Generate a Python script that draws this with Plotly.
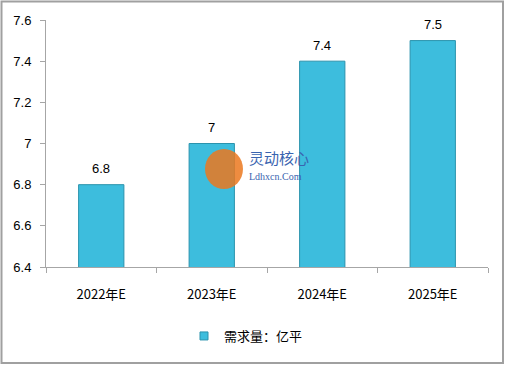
import plotly.graph_objects as go

categories = ["2022年E", "2023年E", "2024年E", "2025年E"]
values = [6.8, 7.0, 7.4, 7.5]
labels = ["6.8", "7", "7.4", "7.5"]
series_name = "需求量：亿平"
tick_vals = [6.4, 6.6, 6.8, 7.0, 7.2, 7.4, 7.6]
tick_text = ["6.4", "6.6", "6.8", "7", "7.2", "7.4", "7.6"]

W, H = 506, 366
L, R, T, B = 46, 18, 20, 99
pw, ph = W - L - R, H - T - B

def px(x):
    return (x - L) / pw

def py(y):
    return (H - B - y) / ph

font = "Liberation Sans, Noto Sans CJK SC, sans-serif"
cjk = "Noto Sans CJK SC, sans-serif"
bar_color = "#3dbddd"

fig = go.Figure()
fig.add_trace(go.Bar(
    x=categories, y=values, name=series_name, showlegend=False,
    marker=dict(color=bar_color, line=dict(color="#2b93ad", width=1)),
    width=0.41,
))
fig.add_trace(go.Scatter(
    x=[None], y=[None], mode="markers", name=series_name,
    marker=dict(symbol="square", size=8, color=bar_color, line=dict(color="#2b93ad", width=1)),
))

annotations = [
    dict(x=c, y=v, text=t, xref="x", yref="y", showarrow=False,
         yanchor="middle", yshift=16, font=dict(size=13, color="#000000", family=font))
    for c, v, t in zip(categories, values, labels)
]
annotations += [
    dict(text="灵动核心", xref="paper", yref="paper", x=px(247), y=py(157),
         xanchor="left", yanchor="middle", showarrow=False,
         font=dict(size=15, color="#3a64b0", family=cjk)),
    dict(text="Ldhxcn.Com", xref="paper", yref="paper", x=px(247), y=py(176),
         xanchor="left", yanchor="middle", showarrow=False,
         font=dict(size=10, color="#3a64b0", family="Liberation Serif, serif")),
]

fig.update_layout(
    width=W, height=H,
    margin=dict(l=L, r=R, t=T, b=B),
    paper_bgcolor="white", plot_bgcolor="white",
    font=dict(family=font, size=13, color="#000000"),
    showlegend=True,
    legend=dict(orientation="h", x=px(184), y=py(336), xanchor="left", yanchor="middle",
                font=dict(size=13, family=cjk), itemwidth=30,
                bgcolor="rgba(0,0,0,0)"),
    xaxis=dict(showline=True, linecolor="#a6a6a6", linewidth=1,
               ticks="outside", ticklen=5, tickcolor="#a6a6a6", tickson="boundaries",
               showgrid=False, tickfont=dict(size=13, family=cjk),
               ticklabelstandoff=15),
    yaxis=dict(range=[6.4, 7.6], tickvals=tick_vals, ticktext=tick_text,
               showline=True, linecolor="#a6a6a6", linewidth=1,
               ticks="outside", ticklen=5, tickcolor="#a6a6a6",
               showgrid=False, zeroline=False, tickfont=dict(size=13),
               ticklabelstandoff=6),
    shapes=[
        dict(type="rect", xref="paper", yref="paper",
             x0=px(1.5), x1=px(503), y0=py(1.5), y1=py(363),
             line=dict(color="#a0a0a0", width=2), fillcolor="rgba(0,0,0,0)", layer="below"),
        dict(type="circle", xref="paper", yref="paper",
             x0=px(205), x1=px(243), y0=py(149), y1=py(189),
             line=dict(width=0), fillcolor="rgba(235,120,30,0.85)", layer="above"),
    ],
    annotations=annotations,
)

fig.write_html("out.html")
